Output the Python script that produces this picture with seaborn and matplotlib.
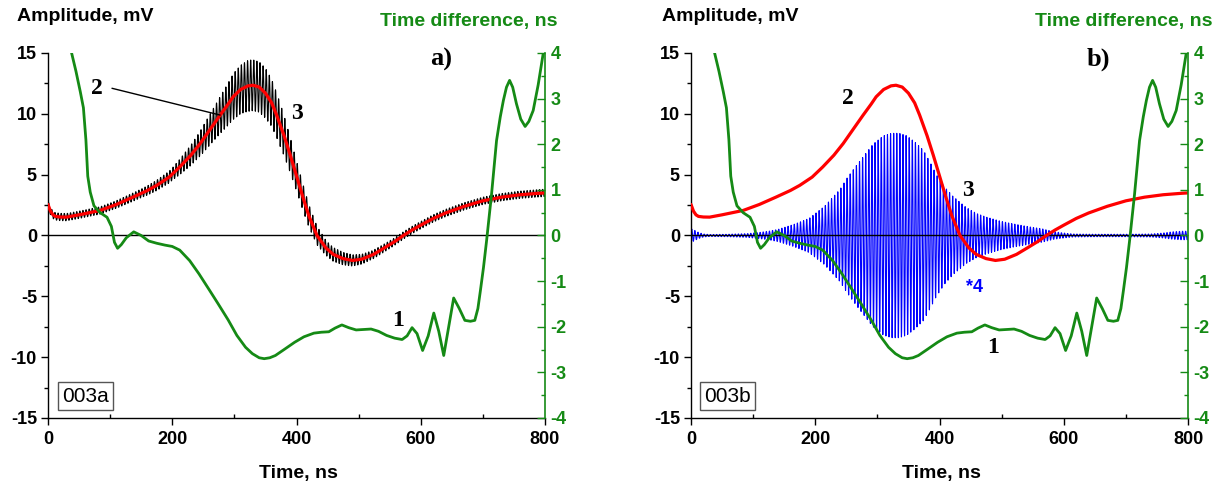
import numpy as np
import matplotlib
matplotlib.use("Agg")
import matplotlib.pyplot as plt
import seaborn as sns
from matplotlib.ticker import MultipleLocator

# ---------------- data ----------------
# Curve 1: time difference (ns, right axis)
green_t = [33, 38, 45, 52, 57, 61, 64, 68, 74, 84, 95, 102, 107, 112, 118, 126, 138, 150,
           162, 175, 188, 200, 212, 228, 243, 260, 274, 290, 304, 318, 329, 340, 348, 357,
           366, 380, 397, 412, 428, 440, 452, 462, 473, 484, 496, 508, 520, 532, 545, 558,
           570, 578, 586, 594, 603, 612, 621, 629, 637, 645, 653, 662, 671, 680, 687, 692,
           696, 701, 706, 714, 722, 728, 733, 738, 743, 748, 754, 761, 768, 774, 781, 789,
           797, 800]
green_v = [4.6, 4.0, 3.6, 3.15, 2.8, 2.1, 1.3, 0.95, 0.65, 0.5, 0.4, 0.2, -0.15, -0.28,
           -0.2, -0.05, 0.08, 0.0, -0.12, -0.17, -0.21, -0.24, -0.32, -0.55, -0.84, -1.2,
           -1.5, -1.85, -2.19, -2.45, -2.59, -2.68, -2.70, -2.68, -2.63, -2.5, -2.34, -2.22,
           -2.14, -2.12, -2.11, -2.03, -1.96, -2.02, -2.07, -2.06, -2.05, -2.1, -2.19, -2.25,
           -2.28, -2.2, -2.02, -2.15, -2.52, -2.2, -1.70, -2.1, -2.63, -2.0, -1.37, -1.6,
           -1.86, -1.88, -1.86, -1.6, -1.21, -0.7, -0.11, 0.91, 2.08, 2.6, 2.96, 3.25, 3.4,
           3.25, 2.89, 2.55, 2.39, 2.5, 2.74, 3.3, 3.98, 4.2]

# Curve 2: smoothed amplitude (mV)
red_t = [0, 4, 8, 12, 20, 30, 50, 84, 110, 137, 160, 175, 195, 212, 230, 245, 262, 277,
         290, 298, 310, 322, 330, 340, 350, 360, 368, 380, 390, 400, 410, 420, 433, 447,
         459, 475, 490, 505, 524, 542, 558, 572, 586, 600, 620, 640, 670, 700, 730, 760,
         790, 800]
red_v = [2.55, 2.0, 1.7, 1.57, 1.52, 1.51, 1.7, 2.06, 2.55, 3.16, 3.7, 4.12, 4.8, 5.63,
         6.6, 7.56, 8.8, 9.89, 10.8, 11.4, 12.0, 12.3, 12.35, 12.2, 11.7, 10.9, 9.9, 8.2,
         6.6, 4.9, 3.2, 1.6, 0.0, -1.0, -1.55, -1.9, -2.05, -1.95, -1.55, -1.0, -0.5,
         0.0, 0.45, 0.85, 1.4, 1.85, 2.4, 2.85, 3.15, 3.35, 3.47, 3.5]

# Curve 3 (panel a, black): oscillation amplitude around curve 2 (mV)
black_env_t = [0, 100, 150, 200, 240, 270, 300, 323, 350, 375, 400, 425, 450, 480, 520, 560, 800]
black_env_v = [0.3, 0.3, 0.35, 0.5, 0.95, 1.4, 1.9, 2.1, 2.05, 1.75, 1.25, 0.85, 0.6, 0.5,
               0.35, 0.3, 0.3]

# Curve 3 (panel b, blue, x4): oscillation envelope (mV)
blue_env_t = [0, 5, 10, 15, 20, 30, 60, 90, 110, 125, 140, 165, 190, 215, 240, 251, 267,
              293, 310, 323, 335, 347, 360, 374, 385, 395, 408, 422, 443, 460, 476, 500,
              519, 546, 565, 585, 600, 615, 650, 700, 740, 760, 775, 790, 800]
blue_env_v = [0.55, 0.45, 0.3, 0.2, 0.12, 0.08, 0.1, 0.15, 0.25, 0.35, 0.5, 0.9, 1.4, 2.4,
              3.8, 4.7, 5.8, 7.5, 8.2, 8.4, 8.4, 8.2, 7.7, 7.0, 6.0, 5.0, 4.0, 3.2, 2.3,
              1.8, 1.5, 1.15, 0.95, 0.7, 0.55, 0.3, 0.2, 0.12, 0.1, 0.1, 0.12, 0.2, 0.3,
              0.35, 0.35]
carrier_period_ns = 5.0

panel_tags = ["003a", "003b"]
panel_letters = ["a)", "b)"]

x_ticks = [0, 200, 400, 600, 800]
amp_ticks = [-15, -10, -5, 0, 5, 10, 15]
td_ticks = [-4, -3, -2, -1, 0, 1, 2, 3, 4]

# ---------------- style ----------------
sns.set_theme(style="ticks")
plt.rcParams["font.family"] = ["Liberation Sans", "DejaVu Sans"]
plt.rcParams["axes.unicode_minus"] = False
plt.rcParams["text.color"] = "black"

GREEN = "#158a15"
RED = "#ff0000"
BLUE = "#0000ff"

fig = plt.figure(figsize=(12.25, 4.86), dpi=100)
axes = [fig.add_axes([48 / 1225, 68 / 486, 497 / 1225, 365 / 486]),
        fig.add_axes([691 / 1225, 68 / 486, 497 / 1225, 365 / 486])]

t_dense = np.arange(0, 800.001, 0.25)
carrier = np.sin(2 * np.pi * t_dense / carrier_period_ns)
red_dense = np.interp(t_dense, red_t, red_v)
black_sig = red_dense + np.interp(t_dense, black_env_t, black_env_v) * carrier
blue_sig = np.interp(t_dense, blue_env_t, blue_env_v) * carrier

serif = dict(family=["Liberation Serif", "DejaVu Serif"], fontweight="bold", color="black")

for i, ax in enumerate(axes):
    ax.set_xlim(0, 800)
    ax.set_ylim(-15, 15)
    ax.axhline(0, color="black", lw=1.0, zorder=3)
    if i == 0:
        sns.lineplot(x=t_dense, y=black_sig, ax=ax, color="black", lw=0.8,
                     estimator=None, sort=False, zorder=2)
    else:
        sns.lineplot(x=t_dense, y=blue_sig, ax=ax, color=BLUE, lw=0.8,
                     estimator=None, sort=False, zorder=2)
    sns.lineplot(x=red_t, y=red_v, ax=ax, color=RED, lw=2.3,
                 estimator=None, sort=False, zorder=4)

    ax.set_xticks(x_ticks)
    ax.set_yticks(amp_ticks)
    ax.xaxis.set_minor_locator(MultipleLocator(100))
    ax.yaxis.set_minor_locator(MultipleLocator(2.5))
    ax.tick_params(axis="x", which="major", direction="out", length=5, width=1,
                   labelsize=13, pad=4, colors="black")
    ax.tick_params(axis="x", which="minor", direction="in", length=3, width=1,
                   colors="black")
    ax.tick_params(axis="y", which="major", direction="out", length=5, width=1,
                   labelsize=13, pad=3, colors="black")
    ax.tick_params(axis="y", which="minor", direction="out", length=3, width=1,
                   colors="black")
    for lab in ax.get_xticklabels() + ax.get_yticklabels():
        lab.set_fontweight("bold")
    ax.set_xlabel("")
    ax.set_ylabel("")
    for s in ["left", "bottom"]:
        ax.spines[s].set_color("black")
        ax.spines[s].set_linewidth(1.0)
    ax.spines["top"].set_visible(False)
    ax.spines["right"].set_visible(False)

    ax2 = ax.twinx()
    ax2.set_ylim(-4, 4)
    sns.lineplot(x=green_t, y=green_v, ax=ax2, color=GREEN, lw=2.0,
                 estimator=None, sort=False)
    ax2.set_yticks(td_ticks)
    ax2.yaxis.set_minor_locator(MultipleLocator(0.5))
    ax2.tick_params(axis="y", which="major", direction="in", length=6, width=1,
                    labelsize=13, pad=4, colors=GREEN)
    ax2.tick_params(axis="y", which="minor", direction="in", length=3, width=1,
                    colors=GREEN)
    for lab in ax2.get_yticklabels():
        lab.set_fontweight("bold")
    ax2.set_ylabel("")
    ax2.spines["right"].set_color(GREEN)
    ax2.spines["right"].set_linewidth(1.2)
    for s in ["top", "left", "bottom"]:
        ax2.spines[s].set_visible(False)

    # axis titles
    ax.text(-0.062 if i == 0 else -0.059, 1.101, "Amplitude, mV", transform=ax.transAxes,
            ha="left", va="center", fontsize=14, fontweight="bold", color="black")
    ax.text(1.026 if i == 0 else 1.05, 1.085, "Time difference, ns", transform=ax.transAxes,
            ha="right", va="center", fontsize=14, fontweight="bold", color=GREEN)
    ax.text(0.503, -0.151, "Time, ns", transform=ax.transAxes, ha="center", va="center",
            fontsize=14, fontweight="bold", color="black")

    # tag box
    ax.text(61 if i == 0 else 59, -13.2, panel_tags[i], ha="center", va="center",
            fontsize=15, color="black",
            bbox=dict(boxstyle="square,pad=0.2", fc="white", ec="#555555", lw=1.0),
            zorder=6)
    # panel letter
    ax.text(633 if i == 0 else 656, 14.5, panel_letters[i], ha="center", va="center",
            fontsize=19, zorder=6, **serif)

    if i == 0:
        ax.text(78, 12.1, "2", ha="center", va="center", fontsize=17, zorder=6, **serif)
        ax.plot([103, 277], [12.1, 9.9], color="black", lw=1.0, zorder=5)
        ax.text(400, 10.0, "3", ha="center", va="center", fontsize=17, zorder=6, **serif)
        ax.text(563, -7.0, "1", ha="center", va="center", fontsize=17, zorder=6, **serif)
    else:
        ax.text(253, 11.3, "2", ha="center", va="center", fontsize=17, zorder=6, **serif)
        ax.text(446, 3.7, "3", ha="center", va="center", fontsize=17, zorder=6, **serif)
        ax.text(457, -4.3, "*4", ha="center", va="center", fontsize=13, zorder=6,
                color=BLUE, fontweight="bold")
        ax.text(486, -9.2, "1", ha="center", va="center", fontsize=17, zorder=6, **serif)

fig.savefig("out.png", dpi=100)
